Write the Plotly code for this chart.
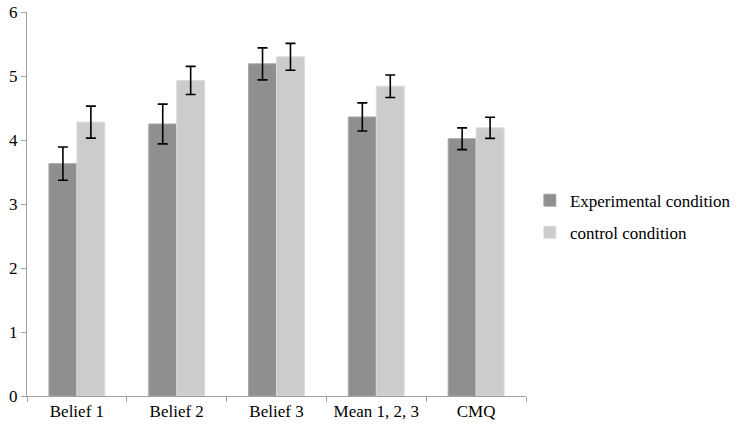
import plotly.graph_objects as go

categories = ['Belief 1', 'Belief 2', 'Belief 3', 'Mean 1, 2, 3', 'CMQ']

experimental = [3.63, 4.25, 5.19, 4.36, 4.02]
experimental_err = [0.26, 0.31, 0.25, 0.22, 0.17]

control = [4.28, 4.93, 5.30, 4.84, 4.19]
control_err = [0.25, 0.22, 0.21, 0.175, 0.165]

serif = 'Liberation Serif'

fig = go.Figure()

fig.add_trace(go.Bar(
    x=categories, y=experimental, name='Experimental condition',
    legendgroup='exp',
    marker=dict(color='#8f8f8f', line=dict(color='#a6a6a6', width=1)),
    error_y=dict(type='data', array=experimental_err, color='black',
                 thickness=1.6, width=5)
))
fig.add_trace(go.Bar(
    x=categories, y=control, name='control condition',
    legendgroup='ctl',
    marker=dict(color='#cccccc', line=dict(color='#dcdcdc', width=1)),
    error_y=dict(type='data', array=control_err, color='black',
                 thickness=1.6, width=5)
))

fig.update_layout(
    width=738, height=429,
    margin=dict(l=27, r=212, t=12, b=33),
    barmode='group', bargap=0.44, bargroupgap=0,
    plot_bgcolor='white', paper_bgcolor='white',
    font=dict(family=serif, size=17, color='black'),
    # legend placed against the page so it does not squeeze the plot
    legend=dict(xref='container', yref='container', x=0.718, y=0.495,
                xanchor='left', yanchor='middle',
                font=dict(family=serif, size=17), itemwidth=30,
                traceorder='grouped', tracegroupgap=7),
    xaxis=dict(showline=True, linecolor='#a0a0a0', linewidth=1,
               ticks='outside', tickson='boundaries', ticklen=5,
               tickcolor='#a0a0a0', automargin=False, tickangle=0,
               tickfont=dict(family=serif, size=17)),
    yaxis=dict(range=[0, 6], dtick=1, showline=True, linecolor='#a0a0a0',
               linewidth=1, ticks='outside', ticklen=5, tickcolor='#a0a0a0',
               showgrid=False, zeroline=False, automargin=False,
               tickfont=dict(family=serif, size=17)),
)

# drop the default page margin so the figure sits at the window's corner
fig.write_html("out.html", config={'displayModeBar': False},
               post_script="document.body.style.margin='0';")
